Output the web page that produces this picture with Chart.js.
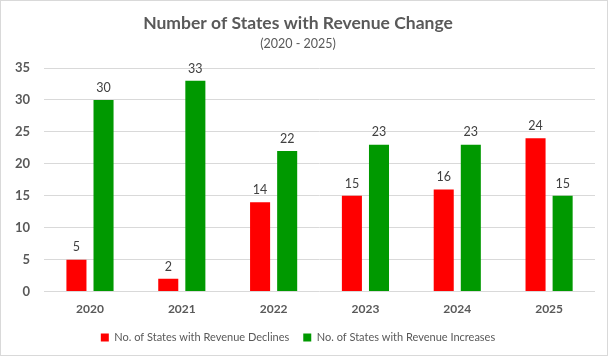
<!DOCTYPE html>
<html><head><meta charset="utf-8">
<script src="https://cdn.jsdelivr.net/npm/chart.js@4/dist/chart.umd.min.js"></script>
<style>
html,body{margin:0;padding:0;background:#fff;}
#wrap{width:608px;height:356px;box-sizing:border-box;border:1px solid #d9d9d9;position:relative;}
</style></head><body>
<div id="wrap"><canvas id="c"></canvas></div>
<script>
const categories = ['2020','2021','2022','2023','2024','2025'];
const declines = [5, 2, 14, 15, 16, 24];
const increases = [30, 33, 22, 23, 23, 15];
const yTicks = [0,5,10,15,20,25,30,35];

const labelPlugin = {
  id:'barLabels',
  afterDatasetsDraw(chart){
    const ctx = chart.ctx;
    ctx.save();
    ctx.font = '12.5px Lato, "Liberation Sans", sans-serif';
    ctx.fillStyle = '#404040';
    ctx.textAlign = 'center';
    ctx.textBaseline = 'bottom';
    chart.data.datasets.forEach((ds,i)=>{
      chart.getDatasetMeta(i).data.forEach((bar,j)=>{
        ctx.fillText(String(ds.data[j]), bar.x, bar.y - 6);
      });
    });
    ctx.restore();
  }
};

new Chart(document.getElementById('c'), {
  type:'bar',
  data:{
    labels: categories,
    datasets:[
      {label:'No. of States with Revenue Declines', data: declines, backgroundColor:'#ff0000', categoryPercentage:0.59, barPercentage:0.74},
      {label:'No. of States with Revenue Increases', data: increases, backgroundColor:'#009900', categoryPercentage:0.59, barPercentage:0.74}
    ]
  },
  options:{
    responsive:true, maintainAspectRatio:false, animation:false,
    layout:{padding:{left:0,right:12,top:4,bottom:2}},
    plugins:{
      title:{display:true,text:'Number of States with Revenue Change',color:'#595959',font:{family:'Lato, "Liberation Sans", sans-serif',size:17.5,weight:'bold'},padding:{top:8,bottom:2}},
      subtitle:{display:true,text:'(2020 - 2025)',color:'#595959',font:{family:'Lato, "Liberation Sans", sans-serif',size:12.5},padding:{bottom:17}},
      legend:{position:'bottom',labels:{boxWidth:8,boxHeight:8,color:'#595959',font:{family:'Lato, "Liberation Sans", sans-serif',size:11},padding:14}},
      tooltip:{enabled:false}
    },
    scales:{
      x:{grid:{display:false},border:{display:false},ticks:{color:'#595959',font:{family:'Lato, "Liberation Sans", sans-serif',size:12,weight:'bold'},padding:2}},
      y:{min:0,max:35,afterBuildTicks(ax){ax.ticks=yTicks.map(v=>({value:v}));},
         grid:{color:'#d9d9d9',drawTicks:false},border:{display:false},
         ticks:{color:'#595959',font:{family:'Lato, "Liberation Sans", sans-serif',size:13,weight:'bold'},padding:14}}
    }
  },
  plugins:[labelPlugin]
});
</script></body></html>
